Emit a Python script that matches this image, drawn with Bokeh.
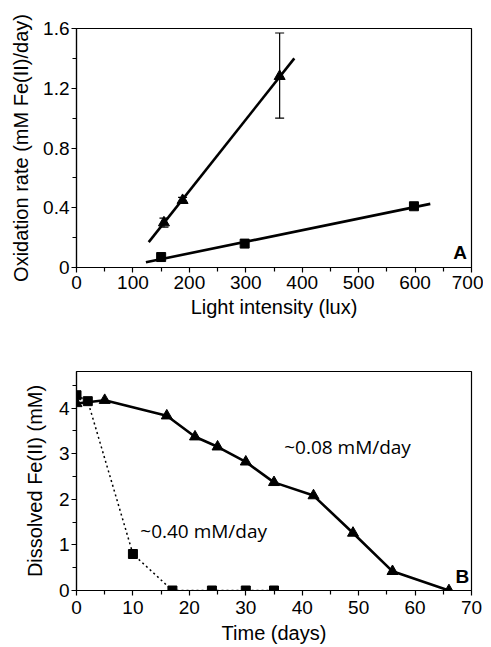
from bokeh.plotting import figure
from bokeh.layouts import column
from bokeh.models import FixedTicker, Whisker, TeeHead, ColumnDataSource, Label
from bokeh.embed import file_html
from bokeh.resources import INLINE

# ---- Panel A data ----
tri_light = [155, 188, 360]
tri_rate = [0.30, 0.45, 1.28]
tri_err_lo = [0.27, 0.43, 1.00]
tri_err_hi = [0.33, 0.47, 1.57]
sq_light = [150, 298, 598]
sq_rate = [0.07, 0.16, 0.41]
fit_tri_x = [128, 386]
fit_tri_y = [0.17, 1.40]
fit_sq_x = [123, 627]
fit_sq_y = [0.035, 0.426]
a_xticks = [0, 100, 200, 300, 400, 500, 600, 700]
a_yticks = [0, 0.4, 0.8, 1.2, 1.6]
a_ylabels = ["0", "0.4", "0.8", "1.2", "1.6"]

# ---- Panel B data ----
tri_days = [0, 5, 16, 21, 25, 30, 35, 42, 49, 56, 66]
tri_fe = [4.10, 4.17, 3.83, 3.37, 3.15, 2.82, 2.37, 2.08, 1.26, 0.42, 0.0]
sq_days = [0, 2, 10, 17, 24, 30, 35]
sq_fe = [4.28, 4.15, 0.80, 0.0, 0.0, 0.0, 0.0]
b_xticks = [0, 10, 20, 30, 40, 50, 60, 70]
b_yticks = [0, 1, 2, 3, 4]

FONT = "Liberation Sans"
ANN_FONT = "Open Sans"


def style(p, xticks, xminor, yticks, yminor):
    p.outline_line_color = "black"
    p.outline_line_width = 1.2
    p.grid.visible = False
    p.background_fill_color = "white"
    p.border_fill_color = "white"
    for ax in (p.xaxis[0], p.yaxis[0]):
        ax.axis_line_color = "black"
        ax.axis_line_width = 1.2
        ax.major_tick_line_color = "black"
        ax.minor_tick_line_color = "black"
        ax.major_tick_line_width = 1.2
        ax.minor_tick_line_width = 1.2
        ax.major_tick_in = 0
        ax.major_tick_out = 5
        ax.minor_tick_in = 0
        ax.minor_tick_out = 4
        ax.major_label_text_font = FONT
        ax.major_label_text_font_size = "19px"
        ax.major_label_text_color = "black"
        ax.axis_label_text_font = FONT
        ax.axis_label_text_font_size = "20px"
        ax.axis_label_text_font_style = "normal"
        ax.axis_label_text_color = "black"
    p.xaxis[0].ticker = FixedTicker(ticks=xticks, minor_ticks=xminor)
    p.yaxis[0].ticker = FixedTicker(ticks=yticks, minor_ticks=yminor)
    p.xaxis[0].major_label_standoff = 3
    p.yaxis[0].major_label_standoff = 2
    p.xaxis[0].axis_label_standoff = 2
    p.yaxis[0].axis_label_standoff = 8


# ---------- Panel A ----------
pa = figure(width=483, height=329, x_range=(0, 700), y_range=(0, 1.6),
            output_backend="svg", toolbar_location=None,
            min_border_left=76, min_border_right=10, min_border_top=28, min_border_bottom=62)
style(pa, a_xticks, [50 + 100 * i for i in range(7)], a_yticks, [0.2, 0.6, 1.0, 1.4])
pa.yaxis[0].major_label_overrides = {t: s for t, s in zip(a_yticks, a_ylabels)}
pa.xaxis[0].axis_label = "Light intensity (lux)"
pa.yaxis[0].axis_label = "Oxidation rate (mM Fe(II)/day)"
pa.xaxis[0].axis_label_standoff = 4

pa.line(fit_tri_x, fit_tri_y, line_color="black", line_width=2.6)
pa.line(fit_sq_x, fit_sq_y, line_color="black", line_width=2.6)
err_src = ColumnDataSource(dict(x=tri_light, lo=tri_err_lo, hi=tri_err_hi))
pa.add_layout(Whisker(source=err_src, base="x", lower="lo", upper="hi", dimension="height",
                      line_color="black", line_width=1.2,
                      upper_head=TeeHead(size=9, line_color="black", line_width=1.2),
                      lower_head=TeeHead(size=9, line_color="black", line_width=1.2)))
pa.scatter(tri_light, tri_rate, marker="triangle", size=11, fill_color="black", line_color="black")
pa.scatter(sq_light, sq_rate, marker="square", size=9, fill_color="black", line_color="black")
pa.add_layout(Label(x=692, y=0.03, text="A", text_font=FONT, text_font_style="bold",
                    text_font_size="19px", text_align="right", text_baseline="bottom",
                    text_color="black"))

# ---------- Panel B ----------
pb = figure(width=483, height=318, x_range=(0, 70), y_range=(0, 4.8),
            output_backend="svg", toolbar_location=None,
            min_border_left=74, min_border_right=12, min_border_top=42, min_border_bottom=57)
style(pb, b_xticks, [5 + 10 * i for i in range(7)], b_yticks, [0.5, 1.5, 2.5, 3.5, 4.5])
pb.xaxis[0].axis_label = "Time (days)"
pb.yaxis[0].axis_label = "Dissolved Fe(II) (mM)"
pb.yaxis[0].axis_label_standoff = 10
pb.xaxis[0].major_label_standoff = 5
pb.xaxis[0].axis_label_standoff = 5

pb.line(sq_days, sq_fe, line_color="black", line_width=1.5, line_dash="2 3")
pb.line(tri_days, tri_fe, line_color="black", line_width=2.6)
pb.scatter(tri_days, tri_fe, marker="triangle", size=11, fill_color="black", line_color="black")
pb.scatter(sq_days, sq_fe, marker="square", size=9, fill_color="black", line_color="black")
pb.add_layout(Label(x=36.8, y=3.14, text="~0.08 mM/day", text_font=ANN_FONT,
                    text_font_size="19px", text_align="left", text_baseline="middle",
                    text_color="black"))
pb.add_layout(Label(x=11.3, y=1.30, text="~0.40 mM/day", text_font=ANN_FONT,
                    text_font_size="19px", text_align="left", text_baseline="middle",
                    text_color="black"))
pb.add_layout(Label(x=69.6, y=0.08, text="B", text_font=FONT, text_font_style="bold",
                    text_font_size="19px", text_align="right", text_baseline="bottom",
                    text_color="black"))

layout = column(pa, pb, spacing=0)
open("out.html", "w").write(file_html(layout, INLINE))
